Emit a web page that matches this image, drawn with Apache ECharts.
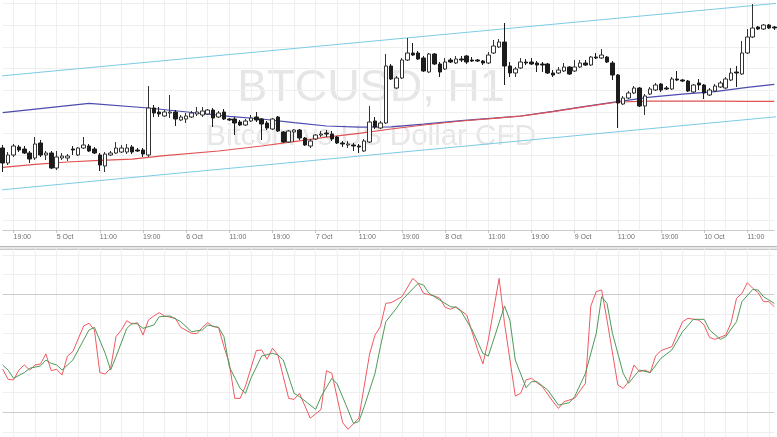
<!DOCTYPE html>
<html><head><meta charset="utf-8">
<script src="https://cdn.jsdelivr.net/npm/echarts@6/dist/echarts.min.js"></script>
<style>html,body{margin:0;padding:0;background:#fff}#c{width:777px;height:437px}</style>
</head><body><div id="c"></div>
<script>
// ---- tick labels (one every 8 hourly bars, first at bar 2) ----
const tickLabels = ['19:00','5 Oct','11:00','19:00','6 Oct','11:00','19:00','7 Oct','11:00','19:00','8 Oct','11:00','19:00','9 Oct','11:00','19:00','10 Oct','11:00'];

// ---- BTCUSD H1 candles ----
const opens = [612.60,611.85,612.25,612.65,612.55,612.35,612.10,612.85,612.25,612.35,
611.60,612.10,612.10,612.55,612.25,612.60,612.70,612.55,612.25,611.70,
612.25,612.35,612.40,612.40,612.65,612.50,612.50,612.25,614.60,614.40,
614.20,614.35,614.40,614.00,614.05,614.15,614.30,614.25,614.30,614.50,
614.15,614.40,614.05,614.05,613.90,613.75,613.95,614.15,614.05,613.85,
613.55,614.15,613.40,612.90,613.40,613.50,613.10,612.70,613.05,613.25,
613.35,613.30,613.15,612.85,612.75,612.75,612.70,612.45,612.90,613.95,
613.60,613.85,616.70,615.60,616.10,617.00,617.35,617.35,617.10,616.40,
617.30,616.80,616.55,617.00,616.85,617.05,617.20,617.00,617.00,616.95,
616.85,617.35,617.65,617.90,616.70,616.35,616.60,616.90,616.90,616.85,
616.80,616.80,616.35,616.35,616.45,616.65,616.45,616.65,616.85,616.75,
617.15,617.10,617.15,616.85,616.25,614.80,615.10,615.35,615.60,614.70,
615.30,615.50,615.80,615.60,615.55,616.05,616.00,615.95,615.40,615.85,
615.75,615.25,615.45,615.65,615.60,616.00,616.40,616.30,617.35,618.15,
618.65,618.55,618.75,618.65];
const closes = [611.85,612.25,612.70,612.50,612.35,612.05,612.80,612.25,612.35,611.60,
612.15,612.20,612.20,612.50,612.60,612.75,612.45,612.35,611.75,612.30,
612.35,612.60,612.60,612.60,612.40,612.45,612.30,614.60,614.35,614.30,
614.40,614.40,614.05,614.15,614.20,614.35,614.40,614.45,614.50,614.10,
614.35,614.05,614.00,613.85,613.75,613.95,614.10,614.00,613.80,613.60,
614.05,613.45,612.90,613.45,613.50,613.10,612.75,612.95,613.25,613.30,
613.30,613.05,612.85,612.80,612.80,612.70,612.65,612.95,613.90,613.65,
613.85,616.70,616.05,616.10,617.00,617.35,617.25,617.05,616.45,617.30,
616.80,616.40,616.90,616.90,617.05,617.00,616.90,616.95,616.95,616.85,
617.25,617.70,617.90,616.70,616.35,616.55,616.90,616.85,616.80,616.75,
616.75,616.35,616.25,616.50,616.65,616.30,616.65,616.85,616.75,617.15,
617.10,617.25,616.90,616.25,614.85,615.10,615.35,615.60,614.70,615.20,
615.55,615.75,615.50,615.55,616.05,616.00,615.95,615.45,615.75,615.75,
615.35,615.50,615.70,615.85,616.05,616.35,616.35,617.35,618.15,618.60,
618.55,618.75,618.60,618.60];
const lows = [611.40,611.75,612.15,612.40,612.30,611.85,612.00,612.15,612.00,611.55,
611.50,612.00,611.95,612.25,612.20,612.55,612.40,612.30,611.45,611.40,
612.20,612.30,612.35,612.30,612.30,612.40,612.15,612.15,614.15,614.15,
614.15,614.10,613.70,613.95,613.85,614.10,614.20,614.15,614.25,613.65,
614.10,614.00,613.95,613.25,613.70,613.70,613.90,613.90,613.00,613.50,
613.50,613.40,612.85,612.85,612.90,613.00,612.70,612.60,613.00,613.15,
613.15,612.95,612.80,612.65,612.60,612.45,612.35,612.40,612.85,613.55,
613.55,613.80,616.00,615.55,616.05,616.95,617.20,617.00,616.40,616.35,
616.75,616.15,616.50,616.85,616.80,616.90,616.80,616.90,616.90,616.75,
616.80,617.30,617.60,615.75,616.15,616.15,616.55,616.75,616.75,616.40,
616.40,616.30,616.15,616.30,616.40,616.25,616.40,616.60,616.70,616.70,
617.05,617.05,616.85,616.00,613.60,614.75,615.05,615.30,614.65,614.25,
615.25,615.45,615.40,615.50,615.50,615.95,615.90,615.40,615.35,615.50,
615.05,615.20,615.40,615.60,615.55,615.95,615.65,616.25,617.30,618.10,
618.50,618.50,618.55,618.50];
const highs = [612.75,612.40,612.80,612.75,612.70,612.45,613.15,613.00,612.45,612.45,
612.45,612.35,612.30,612.70,612.65,613.15,612.80,612.65,612.35,612.40,
612.45,612.90,612.75,612.80,612.75,612.60,612.60,615.70,614.75,614.65,
614.50,615.25,614.50,614.25,614.35,614.45,614.65,614.65,614.55,614.60,
614.45,614.55,614.10,614.15,614.00,614.05,614.25,614.40,614.10,613.95,
614.10,614.20,613.45,613.50,613.55,613.55,613.15,613.05,613.30,613.45,
613.50,613.45,613.20,612.95,612.95,612.85,612.80,613.05,614.70,614.15,
613.95,617.30,616.80,616.20,617.10,618.10,617.85,617.45,617.20,617.35,
617.35,616.90,617.10,617.10,617.20,617.20,617.25,617.15,617.05,617.00,
617.40,618.00,618.05,618.85,616.90,616.65,617.10,617.05,617.10,616.95,
616.90,616.85,616.50,616.65,616.85,616.70,617.00,617.00,617.00,617.20,
617.35,617.55,617.20,616.95,616.30,615.20,615.45,615.70,615.65,615.30,
615.65,615.85,615.85,615.70,616.15,616.45,616.05,616.00,615.80,616.05,
615.80,615.60,615.80,615.95,616.15,616.60,616.70,617.95,618.55,619.80,
618.70,618.80,618.80,618.70];

// ---- moving averages [bar, price] ----
const blueMA = [[0,614.37],[16,614.83],[27,614.60],[36,614.35],[42,614.18],[48,614.05],[54,613.87],[60,613.70],[66,613.64],[72,613.66],[78,613.79],[85,613.97],[91,614.09],[96,614.20],[102,614.43],[108,614.68],[114,614.92],[120,615.14],[126,615.29],[132,615.42],[138,615.63],[143,615.78]];
const redMA = [[0,611.63],[6,611.78],[12,611.90],[18,611.98],[24,612.04],[30,612.22],[40,612.45],[48,612.70],[54,612.92],[60,613.14],[66,613.33],[72,613.55],[78,613.75],[85,613.95],[91,614.08],[96,614.19],[102,614.42],[108,614.67],[114,614.90],[120,614.94],[126,614.95],[132,614.94],[138,614.93],[143,614.93]];

// ---- channel lines [bar, price] ----
const channelUpper = [[-0.5,616.20],[143.5,619.835]];
const channelLower = [[-0.5,610.50],[143.5,614.165]];

// ---- gridline levels ----
const priceGrid = [609.00,610.08,611.17,612.25,613.33,614.41,615.50,616.58,617.66,618.74,619.83];
const stochGrid = [10,30,40,50,60,70,90,100];
const stochLevels = [20,80];

// ---- stochastic oscillator [bar, value] ----
const stochK = [[0,42],[1,36.8],[2,36.5],[3,41.5],[4,44.1],[5,41.5],[6,44.1],[7,44.6],[8,49.7],[9,41.2],[10,41.9],[11,39.0],[12,48.6],[13,50.9],[15,63.9],[16,65.3],[17,61.9],[18,40.2],[19,39.5],[20,42.4],[21,58.5],[22,61.9],[23,66.6],[24,64.9],[25,65.6],[26,59.3],[27,66.9],[28,69.0],[29,70.7],[30,69.0],[32,67.8],[33,63.2],[35,60.2],[36,60.0],[37,63.2],[38,65.6],[39,63.6],[40,63.2],[41,53.4],[42,44.9],[43,27.1],[44,27.1],[45,33.4],[47,51.4],[48,51.7],[49,47.0],[50,52.6],[51,49.2],[53,27.1],[54,26.6],[55,29.7],[57,17.0],[59,21.5],[60,41.2],[61,39.8],[63,14.8],[64,11.4],[66,17.0],[68,49.7],[69,59.3],[70,63.6],[71,75.4],[72,75.8],[74,78.8],[76,88.1],[77,85.6],[78,80.5],[80,79.2],[81,78.0],[82,73.4],[83,72.4],[84,73.7],[86,69.5],[88,52.0],[89,44.6],[90,56.8],[92,88.1],[93,65.3],[95,28.3],[96,29.7],[97,36.5],[98,37.3],[100,33.1],[102,25.4],[103,22.0],[104,25.4],[106,27.1],[108,34.8],[109,74.1],[110,81.4],[111,82.2],[112,66.9],[114,33.9],[115,32.2],[116,35.6],[117,44.1],[118,40.7],[119,41.5],[120,40.2],[121,48.6],[122,51.4],[124,53.4],[126,66.1],[127,67.8],[129,66.9],[130,64.4],[131,58.1],[132,57.1],[134,59.3],[135,65.6],[136,78.0],[137,80.5],[138,85.9],[139,83.1],[140,80.9],[141,76.3],[142,76.3],[143,73.7]];
const stochD = [[0,44],[1,41.5],[2,37.3],[4,40.2],[5,42.4],[7,43.6],[8,46.6],[9,44.9],[10,44.1],[11,41.5],[13,46.6],[15,56.8],[16,61.9],[17,63.2],[19,50.0],[20,41.5],[21,48.3],[23,62.7],[24,65.3],[25,64.9],[26,62.7],[28,64.4],[29,68.6],[31,69.0],[33,66.1],[35,61.0],[37,61.9],[38,64.4],[40,63.2],[41,58.5],[42,43.2],[44,32.2],[45,29.7],[46,37.3],[48,48.6],[50,50.0],[51,49.2],[52,46.6],[54,29.7],[55,28.0],[58,21.5],[59,28.0],[61,37.3],[62,34.4],[64,21.2],[65,14.4],[66,15.3],[67,22.9],[69,39.8],[70,53.4],[71,66.1],[73,73.0],[74,77.1],[77,85.6],[78,84.7],[79,80.5],[81,77.1],[83,73.7],[84,73.4],[85,71.2],[87,61.9],[89,50.0],[90,48.6],[93,74.1],[94,66.9],[95,46.6],[97,32.5],[98,35.6],[99,35.6],[101,31.4],[103,23.7],[105,24.9],[106,28.0],[108,39.8],[110,60.2],[111,78.8],[112,75.4],[113,60.2],[115,39.8],[116,34.8],[118,41.5],[120,40.2],[122,47.5],[124,51.7],[126,61.0],[128,67.3],[130,67.3],[131,61.9],[133,57.1],[134,58.5],[136,66.1],[137,76.3],[139,82.5],[140,82.2],[141,78.8],[143,75.4]];

// ---- build ----
const N = opens.length;
const categories = opens.map((_, i) => String(i));
const candles = opens.map((o, i) => [o, closes[i], lows[i], highs[i]]);
const FONT = 'Liberation Sans, Arial, sans-serif';
const isLabel = (i) => i % 8 === 2;
const isGrid = (i) => i % 4 === 2;
const gridColor = '#efefef';

function hLines(vals, color) {
  return vals.map(v => ({ yAxis: v, lineStyle: { color: color, width: 1, type: 'solid' } }));
}

const chart = echarts.init(document.getElementById('c'), null, { renderer: 'canvas' });
chart.setOption({
  animation: false,
  backgroundColor: '#ffffff',
  grid: [
    { left: 2.7, right: 2.7, top: 0, height: 230 },
    { left: 2.7, right: 2.7, top: 249, height: 188 }
  ],
  xAxis: [
    { gridIndex: 0, type: 'category', data: categories, boundaryGap: false,
      axisLine: { show: true, lineStyle: { color: '#cccccc', width: 1 } },
      axisTick: { show: true, interval: (i) => isLabel(i), length: 3, lineStyle: { color: '#c4c4c4' } },
      axisLabel: { show: true, interval: (i) => isLabel(i), formatter: (v, i) => isLabel(i) ? tickLabels[(i - 2) / 8] : '',
        fontSize: 7, color: '#707070', align: 'left', margin: 4, fontFamily: FONT },
      splitLine: { show: true, interval: (i) => isGrid(i), lineStyle: { color: gridColor, width: 1 } } },
    { gridIndex: 1, type: 'category', data: categories, boundaryGap: false,
      axisLine: { show: false }, axisTick: { show: false }, axisLabel: { show: false },
      splitLine: { show: true, interval: (i) => isGrid(i), lineStyle: { color: gridColor, width: 1 } } },
    { gridIndex: 0, type: 'value', min: 0, max: N - 1, show: false },
    { gridIndex: 1, type: 'value', min: 0, max: N - 1, show: false }
  ],
  yAxis: [
    { gridIndex: 0, type: 'value', min: 608.5, max: 620, show: false },
    { gridIndex: 1, type: 'value', min: 7.47, max: 103.05, show: false }
  ],
  graphic: [
    { type: 'text', z: 0, silent: true, style: { x: 371, y: 88.5, text: 'BTCUSD, H1', fill: '#e6e6e6',
      font: '45px ' + FONT, textAlign: 'center', textVerticalAlign: 'middle' } },
    { type: 'text', z: 0, silent: true, style: { x: 371, y: 137, text: 'Bitcoin vs US Dollar CFD', fill: '#e6e6e6',
      font: '29.5px ' + FONT, textAlign: 'center', textVerticalAlign: 'middle' } },
    { type: 'rect', silent: true, shape: { x: 0, y: 246, width: 777, height: 3.5 }, style: { fill: '#e6e6e6' } },
    { type: 'line', silent: true, shape: { x1: 0, y1: 246.5, x2: 777, y2: 246.5 }, style: { stroke: '#b8b8b8', lineWidth: 1 } },
    { type: 'line', silent: true, shape: { x1: 0, y1: 249.5, x2: 777, y2: 249.5 }, style: { stroke: '#c8c8c8', lineWidth: 1 } }
  ],
  series: [
    { type: 'line', xAxisIndex: 2, yAxisIndex: 0, data: channelUpper, symbol: 'none', clip: false, z: 1,
      lineStyle: { color: '#7ccbe6', width: 1 },
      markLine: { silent: true, symbol: ['none', 'none'], label: { show: false }, z: 0,
        data: hLines(priceGrid, gridColor) } },
    { type: 'line', xAxisIndex: 2, yAxisIndex: 0, data: channelLower, symbol: 'none', clip: false, z: 1,
      lineStyle: { color: '#7ccbe6', width: 1 } },
    { type: 'line', xAxisIndex: 2, yAxisIndex: 0, data: blueMA, symbol: 'none', clip: false, z: 2,
      lineStyle: { color: '#4b4bb0', width: 1.2 } },
    { type: 'line', xAxisIndex: 2, yAxisIndex: 0, data: redMA, symbol: 'none', clip: false, z: 2,
      lineStyle: { color: '#e05252', width: 1.2 } },
    { type: 'candlestick', xAxisIndex: 0, yAxisIndex: 0, data: candles, barWidth: 4, z: 3,
      itemStyle: { color: '#ffffff', color0: '#1c1c1c', borderColor: '#333333', borderColor0: '#1c1c1c', borderWidth: 1 } },
    { type: 'line', xAxisIndex: 3, yAxisIndex: 1, data: stochK, symbol: 'none', z: 2,
      lineStyle: { color: '#ee5a62', width: 1 },
      markLine: { silent: true, symbol: ['none', 'none'], label: { show: false }, z: 0,
        data: hLines(stochGrid, gridColor).concat(hLines(stochLevels, '#cccccc')) } },
    { type: 'line', xAxisIndex: 3, yAxisIndex: 1, data: stochD, symbol: 'none', z: 3,
      lineStyle: { color: '#4e9a58', width: 1 } }
  ]
});
</script>
</body></html>
